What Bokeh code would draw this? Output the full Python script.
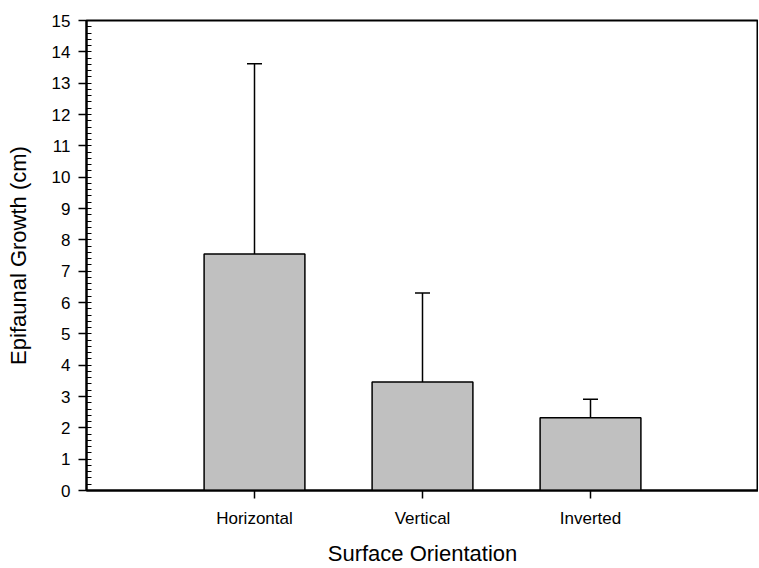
from bokeh.plotting import figure
from bokeh.models import ColumnDataSource, Range1d, FixedTicker, SingleIntervalTicker, Whisker, TeeHead
from bokeh.embed import file_html
from bokeh.resources import INLINE

categories = ["Horizontal", "Vertical", "Inverted"]
means = [7.55, 3.46, 2.32]
errors = [6.07, 2.84, 0.59]
y_ticks = list(range(0, 16))

xpos = [i + 1 for i in range(len(categories))]
upper = [m + e for m, e in zip(means, errors)]
src = ColumnDataSource(dict(x=xpos, top=means, upper=upper))

p = figure(frame_width=672, frame_height=470, output_backend="svg", toolbar_location=None,
           x_range=Range1d(0, 4), y_range=Range1d(0, 15),
           min_border_left=86, min_border_right=0, min_border_top=20, min_border_bottom=77)
p.background_fill_color = "white"
p.border_fill_color = "white"
p.outline_line_color = "black"
p.outline_line_width = 2
p.xgrid.visible = False
p.ygrid.visible = False

p.vbar(x="x", top="top", bottom=0, width=0.6, source=src,
       fill_color="#c0c0c0", line_color="black", line_width=1.5)

w = Whisker(base="x", lower="top", upper="upper", source=src, dimension="height",
            line_color="black", line_width=1.5,
            upper_head=TeeHead(size=15, line_color="black", line_width=1.5), lower_head=None)
p.add_layout(w)

FONT = "Liberation Sans"
for ax in (p.xaxis[0], p.yaxis[0]):
    ax.axis_line_color = "black"
    ax.axis_line_width = 2
    ax.major_tick_line_color = "black"
    ax.major_tick_line_width = 1.5
    ax.minor_tick_line_color = "black"
    ax.major_label_text_font = FONT
    ax.major_label_text_font_size = "17px"
    ax.major_label_text_color = "black"
    ax.axis_label_text_font = FONT
    ax.axis_label_text_font_size = "22px"
    ax.axis_label_text_font_style = "normal"
    ax.axis_label_text_color = "black"

p.yaxis.ticker = SingleIntervalTicker(interval=1, num_minor_ticks=5)
p.yaxis.major_tick_out = 8
p.yaxis.major_tick_in = 0
p.yaxis.minor_tick_out = 0
p.yaxis.minor_tick_in = 5
p.yaxis.major_label_standoff = 8
p.yaxis.axis_label = "Epifaunal Growth (cm)"
p.yaxis.axis_label_standoff = 18

p.xaxis.ticker = FixedTicker(ticks=xpos)
p.xaxis.major_label_overrides = {x: c for x, c in zip(xpos, categories)}
p.xaxis.major_tick_out = 8
p.xaxis.major_tick_in = 0
p.xaxis.minor_tick_line_color = None
p.xaxis.major_label_standoff = 10
p.xaxis.axis_label = "Surface Orientation"
p.xaxis.axis_label_standoff = 10

open("out.html", "w").write(file_html(p, INLINE))
